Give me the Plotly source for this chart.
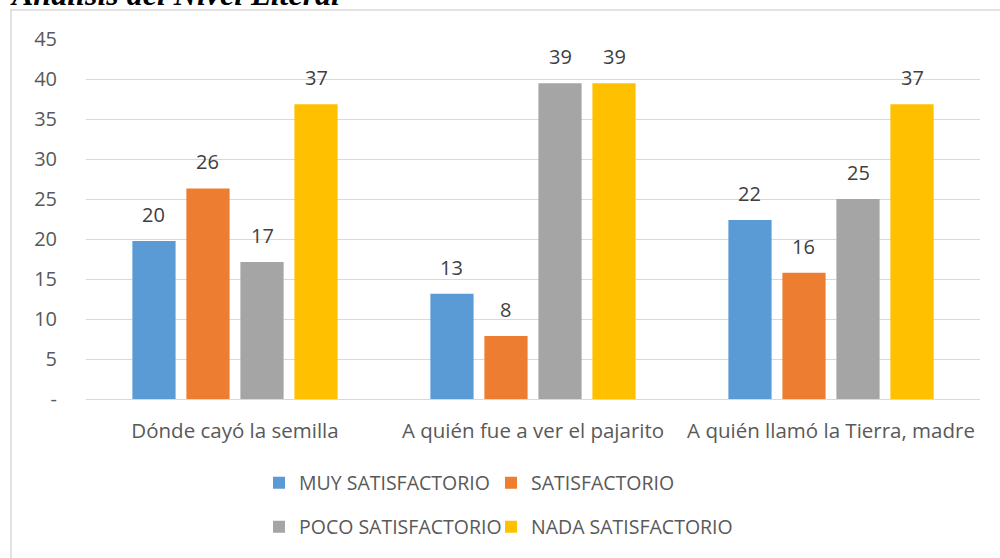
import plotly.graph_objects as go

categories = ['Dónde cayó la semilla', 'A quién fue a ver el pajarito', 'A quién llamó la Tierra, madre']
series_names = ['MUY SATISFACTORIO', 'SATISFACTORIO', 'POCO SATISFACTORIO', 'NADA SATISFACTORIO']
muy = [19.74, 13.16, 22.37]
satis = [26.32, 7.89, 15.79]
poco = [17.11, 39.47, 25.0]
nada = [36.84, 39.47, 36.84]
tick_vals = [0, 5, 10, 15, 20, 25, 30, 35, 40, 45]
tick_text = ['-', '5', '10', '15', '20', '25', '30', '35', '40', '45']

COLORS = ['#5b9bd5', '#ed7d31', '#a5a5a5', '#ffc000']
FONT = 'Open Sans'
BARGAP = 0.275

# pixel layout helpers (plot area 86..980 x, 39..399 y)
L, R, T, B = 86, 20, 39, 159
W, H = 1000, 558
pw, ph = W - L - R, H - T - B


def px_x(x):
    return (x - L) / pw


def px_y(y):
    return (H - B - y) / ph


series = [muy, satis, poco, nada]
slot = pw / len(categories) * (1 - BARGAP) / len(series)

# legend laid out 2x2, one legend box per entry
legend_ids = ['legend', 'legend2', 'legend3', 'legend4']
legend_pos = [(259, 483), (491, 483), (259, 527), (491, 527)]

fig = go.Figure()
for i, (name, vals) in enumerate(zip(series_names, series)):
    fig.add_trace(go.Bar(
        x=categories,
        y=vals,
        name=name,
        marker_color=COLORS[i],
        marker_line_width=0,
        hoverinfo='skip',
        legend=legend_ids[i],
    ))
    # data labels, lifted a little above the bars
    for cat, v in zip(categories, vals):
        fig.add_annotation(
            x=cat, y=v, xref='x', yref='y',
            text=f'{v:.0f}',
            xshift=(i - 1.5) * slot,
            yshift=11,
            yanchor='bottom',
            showarrow=False,
            font=dict(family=FONT, size=20, color='#404040'),
        )

legends = {}
for lid, (lx, ly) in zip(legend_ids, legend_pos):
    legends[lid] = dict(
        orientation='h',
        x=px_x(lx), y=px_y(ly),
        xanchor='left',
        yanchor='middle',
        font=dict(family=FONT, size=19.5, color='#595959'),
        bgcolor='rgba(0,0,0,0)',
        itemclick=False,
    )

fig.update_layout(
    width=W, height=H,
    margin=dict(l=L, r=R, t=T, b=B),
    plot_bgcolor='white',
    paper_bgcolor='white',
    barmode='group',
    bargap=BARGAP,
    bargroupgap=0.2,
    showlegend=True,
    **legends,
)

fig.update_yaxes(
    range=[0, 45],
    tickvals=tick_vals,
    ticktext=tick_text,
    showgrid=True,
    gridcolor='#d9d9d9',
    gridwidth=1,
    zeroline=True,
    zerolinecolor='#d9d9d9',
    zerolinewidth=1,
    showline=False,
    ticklabelstandoff=28,
    tickfont=dict(family=FONT, size=20, color='#595959'),
)
fig.update_xaxes(
    showline=False,
    ticklabelstandoff=17,
    tickfont=dict(family=FONT, size=20.5, color='#595959'),
)

# outer chart border, partly outside the page
fig.add_shape(
    type='rect', xref='paper', yref='paper',
    x0=px_x(11), x1=px_x(1010), y0=px_y(575), y1=px_y(10),
    line=dict(color='#d9d9d9', width=1.5), fillcolor='rgba(0,0,0,0)', layer='below',
)

# title, cut off at the top of the image
fig.add_annotation(
    text='<b><i>Análisis del Nivel Literal</i></b>',
    xref='paper', yref='paper',
    x=px_x(8), y=px_y(14),
    xanchor='left', yanchor='bottom',
    showarrow=False,
    font=dict(family='Liberation Serif', size=32, color='black'),
)

fig.write_html(
    'out.html',
    config={'displayModeBar': False},
    post_script="document.body.style.margin='0';",
)
